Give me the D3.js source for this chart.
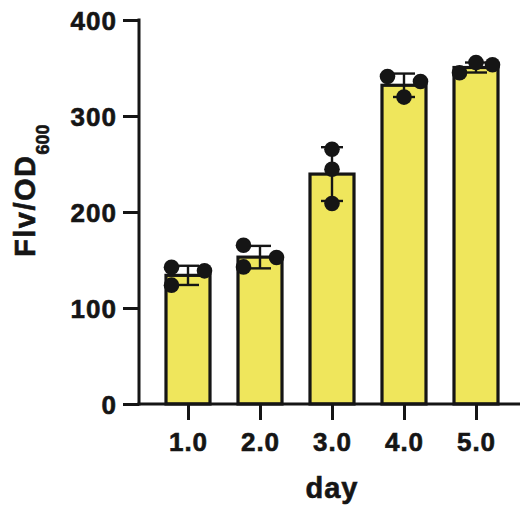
<!DOCTYPE html>
<html>
<head>
<meta charset="utf-8">
<script src="https://cdn.jsdelivr.net/npm/d3@7"></script>
<style>
  body { margin: 0; background: #fff; }
  svg { display: block; font-family: "Liberation Sans", Arial, sans-serif; font-weight: bold; }
  text { stroke: #151515; stroke-width: 0.6px; }
</style>
</head>
<body>
<script>
// data
var days = [1, 2, 3, 4, 5];
var means = [134, 153, 239.5, 332, 350.5];
var sds = [10, 11.7, 28, 12.2, 5.2];
// three replicates per day
var rep1 = [142.5, 165.4, 265.3, 341.2, 345];
var rep2 = [138.7, 152.6, 244.5, 336, 355.8];
var rep3 = [123.8, 142.8, 208.8, 319.7, 353.4];
// scatter slot of each replicate (-1 left, 0 centre, 1 right)
var slot1 = [-1, -1, 0, -1, -1];
var slot2 = [1, 1, 0, 1, 0];
var slot3 = [-1, -1, 0, 0, 1];
var yTicks = [0, 100, 200, 300, 400];

var width = 520, height = 515;
var ink = '#151515';
var barFill = '#efe65c';
var barW = 44;
var spread = 16.5;
var dotR = 7.8;
var capW = 11;

var svg = d3.select('body').append('svg')
    .attr('width', width)
    .attr('height', height);

var x = d3.scaleLinear()
    .domain([1, 5])
    .range([188, 476]);
var y = d3.scaleLinear()
    .domain([0, 400])
    .range([404, 20]);

var axisX = 139;

// bars
svg.append('g')
    .selectAll('rect')
    .data(days)
    .enter().append('rect')
    .attr('x', function(d){ return x(d) - barW/2; })
    .attr('y', function(d, i){ return y(means[i]); })
    .attr('width', barW)
    .attr('height', function(d, i){ return y(0) - y(means[i]); })
    .attr('fill', barFill)
    .attr('stroke', ink)
    .attr('stroke-width', 3.2);

// error bars (mean +- SD)
var err = svg.append('g')
    .attr('stroke', ink)
    .attr('stroke-width', 2.4)
    .selectAll('g')
    .data(days)
    .enter().append('g');
err.append('line')
    .attr('x1', function(d){ return x(d); })
    .attr('x2', function(d){ return x(d); })
    .attr('y1', function(d, i){ return y(means[i] + sds[i]); })
    .attr('y2', function(d, i){ return y(means[i] - sds[i]); });
err.append('line')
    .attr('x1', function(d){ return x(d) - capW; })
    .attr('x2', function(d){ return x(d) + capW; })
    .attr('y1', function(d, i){ return y(means[i] + sds[i]); })
    .attr('y2', function(d, i){ return y(means[i] + sds[i]); });
err.append('line')
    .attr('x1', function(d){ return x(d) - capW; })
    .attr('x2', function(d){ return x(d) + capW; })
    .attr('y1', function(d, i){ return y(means[i] - sds[i]); })
    .attr('y2', function(d, i){ return y(means[i] - sds[i]); });

// replicate points
var points = [];
var reps = [rep1, rep2, rep3];
var slots = [slot1, slot2, slot3];
for (var r = 0; r < reps.length; r++){
    for (var i = 0; i < days.length; i++){
        points.push({ day: days[i], v: reps[r][i], slot: slots[r][i] });
    }
}
svg.append('g')
    .selectAll('circle')
    .data(points)
    .enter().append('circle')
    .attr('cx', function(d){ return x(d.day) + d.slot * spread; })
    .attr('cy', function(d){ return y(d.v); })
    .attr('r', dotR)
    .attr('fill', ink);

// y axis
var gy = svg.append('g')
    .attr('transform', 'translate(' + axisX + ',0)')
    .call(d3.axisLeft(y).tickValues(yTicks).tickSize(16).tickPadding(6).tickSizeOuter(0));
gy.select('.domain').remove();
gy.selectAll('.tick line').attr('stroke', ink).attr('stroke-width', 3);
gy.selectAll('.tick text')
    .attr('fill', ink)
    .attr('font-size', '26px')
    .attr('font-family', null)
    .attr('letter-spacing', '1px')
    .attr('dy', '0.38em');
svg.append('line')
    .attr('x1', axisX).attr('x2', axisX)
    .attr('y1', y(400) - 1.5).attr('y2', y(0) + 1.5)
    .attr('stroke', ink).attr('stroke-width', 3);

// x axis
var gx = svg.append('g')
    .attr('transform', 'translate(0,' + y(0) + ')')
    .call(d3.axisBottom(x).tickValues(days).tickFormat(d3.format('.1f')).tickSize(16).tickPadding(13));
gx.select('.domain').remove();
gx.selectAll('.tick line').attr('stroke', ink).attr('stroke-width', 3);
gx.selectAll('.tick text')
    .attr('fill', ink)
    .attr('font-size', '26px')
    .attr('font-family', null)
    .attr('letter-spacing', '1px');
svg.append('line')
    .attr('x1', axisX - 1.5).attr('x2', width)
    .attr('y1', y(0)).attr('y2', y(0))
    .attr('stroke', ink).attr('stroke-width', 3);

// axis titles
svg.append('text')
    .attr('x', x(3))
    .attr('y', 498)
    .attr('text-anchor', 'middle')
    .attr('font-size', '29px')
    .attr('letter-spacing', '1px')
    .attr('fill', ink)
    .text('day');

var yl = svg.append('text')
    .attr('transform', 'translate(35,257) rotate(-90)')
    .attr('font-size', '29px')
    .attr('letter-spacing', '1.5px')
    .attr('fill', ink);
yl.append('tspan').text('Flv/OD');
yl.append('tspan')
    .attr('font-size', '18px')
    .attr('letter-spacing', '0px')
    .attr('dy', 14)
    .text('600');
</script>
</body>
</html>
